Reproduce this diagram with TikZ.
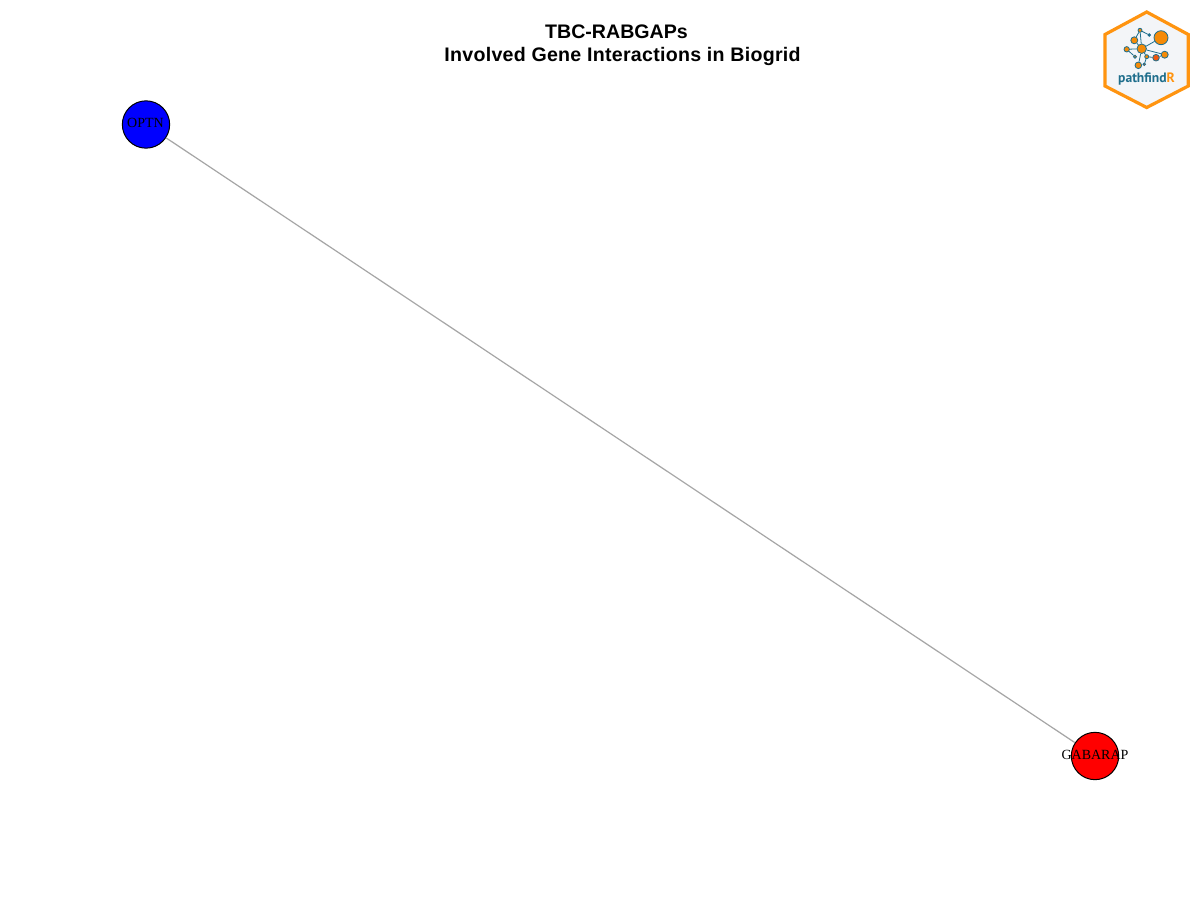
\documentclass[tikz,border=0pt]{standalone}
\usepackage{fontspec}
\setmainfont{Liberation Serif}
\newfontfamily\titlefont{Liberation Sans}
\newfontfamily\titlespaced[LetterSpace=1.4]{Liberation Sans}
\newfontfamily\logofont{PT Sans}
\definecolor{edgegray}{HTML}{A6A6A6}
\definecolor{hexorange}{HTML}{FF9410}
\definecolor{hexfill}{HTML}{F3F5F8}
\definecolor{logoblue}{HTML}{1F6E8C}
\definecolor{logoorange}{HTML}{F58A07}
\definecolor{logored}{HTML}{F0560F}
\tikzset{
  gene/.style={circle,draw=black,line width=0.75pt,minimum size=35.5pt,inner sep=0pt,font=\fontsize{10.5pt}{12pt}\selectfont,text=black},
  titletext/.style={font=\titlefont\bfseries\fontsize{14.7pt}{17pt}\selectfont,inner sep=0pt,text=black},
  titletextb/.style={font=\titlespaced\bfseries\fontsize{14.7pt}{17pt}\selectfont,inner sep=0pt,text=black},
  ln/.style={draw=logoblue,line width=0.6pt},
  ld/.style={circle,draw=logoblue,line width=0.6pt,fill=logoorange,inner sep=0pt},
}
\begin{document}
\begin{tikzpicture}[x=0.75pt,y=-0.75pt]
\useasboundingbox[fill=white] (0,0) rectangle (1200,900);
\node[titletext] (t1) at (616.5,32) {TBC-RABGAPs};
\node[titletextb] (t2) at (622.5,56) {Involved Gene Interactions in Biogrid};
\node[gene,fill=blue] (optn) at (146,124.5) {};
\node[gene,fill=red] (gab) at (1095,756) {};
\draw[edgegray,line width=0.9pt] (optn) -- (gab);
\node[inner sep=0pt,font=\fontsize{10.5pt}{12pt}\selectfont] (optnl) at (145.5,122.5) {OPTN};
\node[inner sep=0pt,font=\fontsize{10.5pt}{12pt}\selectfont] (gabl) at (1095,754.5) {GABARAP};
% logo
\draw[hexorange,line width=2.4pt,fill=hexfill,line join=miter]
  (1146.7,12) -- (1188.3,34.5) -- (1188.3,86) -- (1146.7,107.5) -- (1105,86) -- (1105,34.5) -- cycle;
\node[ld,minimum size=14pt*0.75] (l0) at (1161,37.7) {};
\node[ld,minimum size=9.5pt*0.75] (l1) at (1141.7,48.7) {};
\node[ld,minimum size=7pt*0.75] (l2) at (1134.3,40.3) {};
\node[ld,minimum size=4pt*0.75] (l3) at (1140,30.3) {};
\node[ld,minimum size=2.6pt*0.75,fill=logoblue] (l4) at (1149.3,35) {};
\node[ld,minimum size=5.4pt*0.75] (l5) at (1126.7,49.3) {};
\node[ld,minimum size=3pt*0.75] (l6) at (1135,56.7) {};
\node[ld,minimum size=6.6pt*0.75] (l7) at (1138.3,65.3) {};
\node[ld,minimum size=4pt*0.75] (l8) at (1146.7,56.7) {};
\node[ld,minimum size=6.6pt*0.75,fill=logored] (l9) at (1156,57.7) {};
\node[ld,minimum size=7pt*0.75] (l10) at (1164.7,54.7) {};
\node[ld,minimum size=2.6pt*0.75,fill=logored] (l11) at (1144.3,64.3) {};
\draw[ln] (l1)--(l0) (l1)--(l2) (l2)--(l3) (l3)--(l4) (l3)--(l1) (l5)--(l1) (l5)--(l6) (l1)--(l7) (l1)--(l10) (l8)--(l9) (l9)--(l10) (l8)--(l11) (l8)--(l1);
\node[inner sep=0pt,text=logoblue,font=\logofont\bfseries\fontsize{10.2pt}{11pt}\selectfont] (logot) at (1146.5,79.5) {pathfind\textcolor{hexorange}{R}};
\end{tikzpicture}
\end{document}
